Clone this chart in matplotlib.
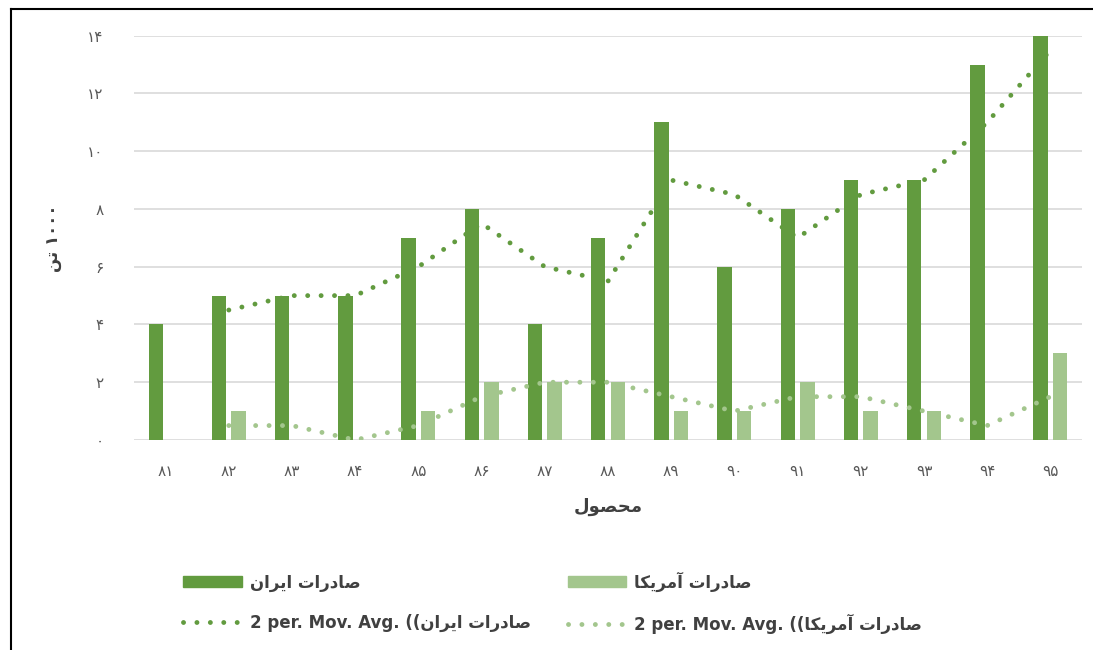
import numpy as np
import pandas as pd
import matplotlib
matplotlib.use("Agg")
import matplotlib.pyplot as plt
from matplotlib.patches import Patch
from matplotlib.lines import Line2D

# data (1000 tonnes)
years = ['۸۱', '۸۲', '۸۳', '۸۴', '۸۵', '۸۶', '۸۷', '۸۸',
         '۸۹', '۹۰', '۹۱', '۹۲', '۹۳', '۹۴', '۹۵']
iran = [4, 5, 5, 5, 7, 8, 4, 7, 11, 6, 8, 9, 9, 13, 14]
usa = [0, 1, 0, 0, 1, 2, 2, 2, 1, 1, 2, 1, 1, 0, 3]
yticks = [0, 2, 4, 6, 8, 10, 12, 14]
ytick_labels = ['۰', '۲', '۴', '۶', '۸', '۱۰', '۱۲', '۱۴']

label_iran = 'صادرات ایران'
label_usa = 'صادرات آمریکا'
xlabel = 'محصول'
ylabel_unit = 'تن'

DARK = '#629B3F'
LIGHT = '#A3C68D'

# matplotlib does no arabic shaping, so map letters to presentation forms
# (isolated, final, initial, medial)
FORMS = {
    'ا': ('\uFE8D', '\uFE8E', None, None),
    'آ': ('\uFE81', '\uFE82', None, None),
    'د': ('\uFEA9', '\uFEAA', None, None),
    'ر': ('\uFEAD', '\uFEAE', None, None),
    'و': ('\uFEED', '\uFEEE', None, None),
    'ص': ('\uFEB9', '\uFEBA', '\uFEBB', '\uFEBC'),
    'ت': ('\uFE95', '\uFE96', '\uFE97', '\uFE98'),
    'ی': ('\uFBFC', '\uFBFD', '\uFBFE', '\uFBFF'),
    'ن': ('\uFEE5', '\uFEE6', '\uFEE7', '\uFEE8'),
    'م': ('\uFEE1', '\uFEE2', '\uFEE3', '\uFEE4'),
    'ک': ('\uFB8E', '\uFB8F', '\uFB90', '\uFB91'),
    'ح': ('\uFEA1', '\uFEA2', '\uFEA3', '\uFEA4'),
    'ل': ('\uFEDD', '\uFEDE', '\uFEDF', '\uFEE0'),
}


def shape(text):
    out = []
    for i, c in enumerate(text):
        if c not in FORMS:
            out.append(c)
            continue
        prev = text[i - 1] if i > 0 else ''
        nxt = text[i + 1] if i + 1 < len(text) else ''
        joins_prev = prev in FORMS and FORMS[prev][2] is not None
        joins_next = nxt in FORMS and FORMS[c][2] is not None
        iso, fin, ini, med = FORMS[c]
        if joins_prev and joins_next:
            out.append(med)
        elif joins_prev:
            out.append(fin)
        elif joins_next:
            out.append(ini)
        else:
            out.append(iso)
    return ''.join(reversed(out))


plt.rcParams['font.family'] = ['DejaVu Sans']

iran_ma = pd.Series(iran, dtype=float).rolling(2).mean()
usa_ma = pd.Series(usa, dtype=float).rolling(2).mean()

fig = plt.figure(figsize=(10.93, 6.5), dpi=100)
ax = fig.add_axes([134 / 1093, 210 / 650, 948 / 1093, 404.3 / 650])

x = np.arange(len(years))
w = 0.23
ax.bar(x - 0.155, iran, w, color=DARK, zorder=2)
ax.bar(x + 0.155, usa, w, color=LIGHT, zorder=2)

dots = (0, (0.01, 2.75))
lw_ma = 3.5
ax.plot(x, iran_ma, color=DARK, lw=lw_ma, ls=dots, dash_capstyle='round', zorder=3)
ax.plot(x, usa_ma, color=LIGHT, lw=lw_ma, ls=dots, dash_capstyle='round', zorder=3)

ax.set_xlim(-0.5, len(years) - 0.5)
ax.set_ylim(0, 14)
ax.set_yticks(yticks)
ax.set_yticklabels(ytick_labels)
ax.set_xticks(x)
ax.set_xticklabels(years)
ax.tick_params(length=0, labelsize=11, colors='#595959')
ax.tick_params(axis='y', pad=22)
ax.tick_params(axis='x', pad=17)
ax.grid(axis='y', color='#D9D9D9', lw=1.2, zorder=0)
for s in ax.spines.values():
    s.set_visible(False)

ax.set_xlabel(shape(xlabel), fontsize=13, fontweight='bold', color='#404040', labelpad=14)
ax.set_ylabel(shape(ylabel_unit) + ' ۱۰۰۰', fontsize=12, fontweight='bold',
              color='#404040', labelpad=18)

handles = [
    Patch(color=DARK),
    Line2D([0], [0], color=DARK, lw=lw_ma, ls=dots, dash_capstyle='round'),
    Patch(color=LIGHT),
    Line2D([0], [0], color=LIGHT, lw=lw_ma, ls=dots, dash_capstyle='round'),
]
labels = [
    shape(label_iran),
    '2 per. Mov. Avg. ((' + shape(label_iran),
    shape(label_usa),
    '2 per. Mov. Avg. ((' + shape(label_usa),
]
fig.legend(handles, labels, ncol=2, frameon=False, loc='upper left',
           bbox_to_anchor=(175 / 1093, 1 - 563 / 650),
           handlelength=3.5, handletextpad=0.5, columnspacing=2.2,
           labelspacing=1.35, borderpad=0, labelcolor='#404040',
           prop={'weight': 'bold', 'size': 12})

# frame of the original screenshot (left and top edges)
fig.add_artist(Line2D([11 / 1093, 11 / 1093], [0, 1 - 9 / 650],
                      transform=fig.transFigure, color='black', lw=1.5))
fig.add_artist(Line2D([11 / 1093, 1], [1 - 9 / 650, 1 - 9 / 650],
                      transform=fig.transFigure, color='black', lw=1.5))

fig.savefig('out.png', dpi=100)
